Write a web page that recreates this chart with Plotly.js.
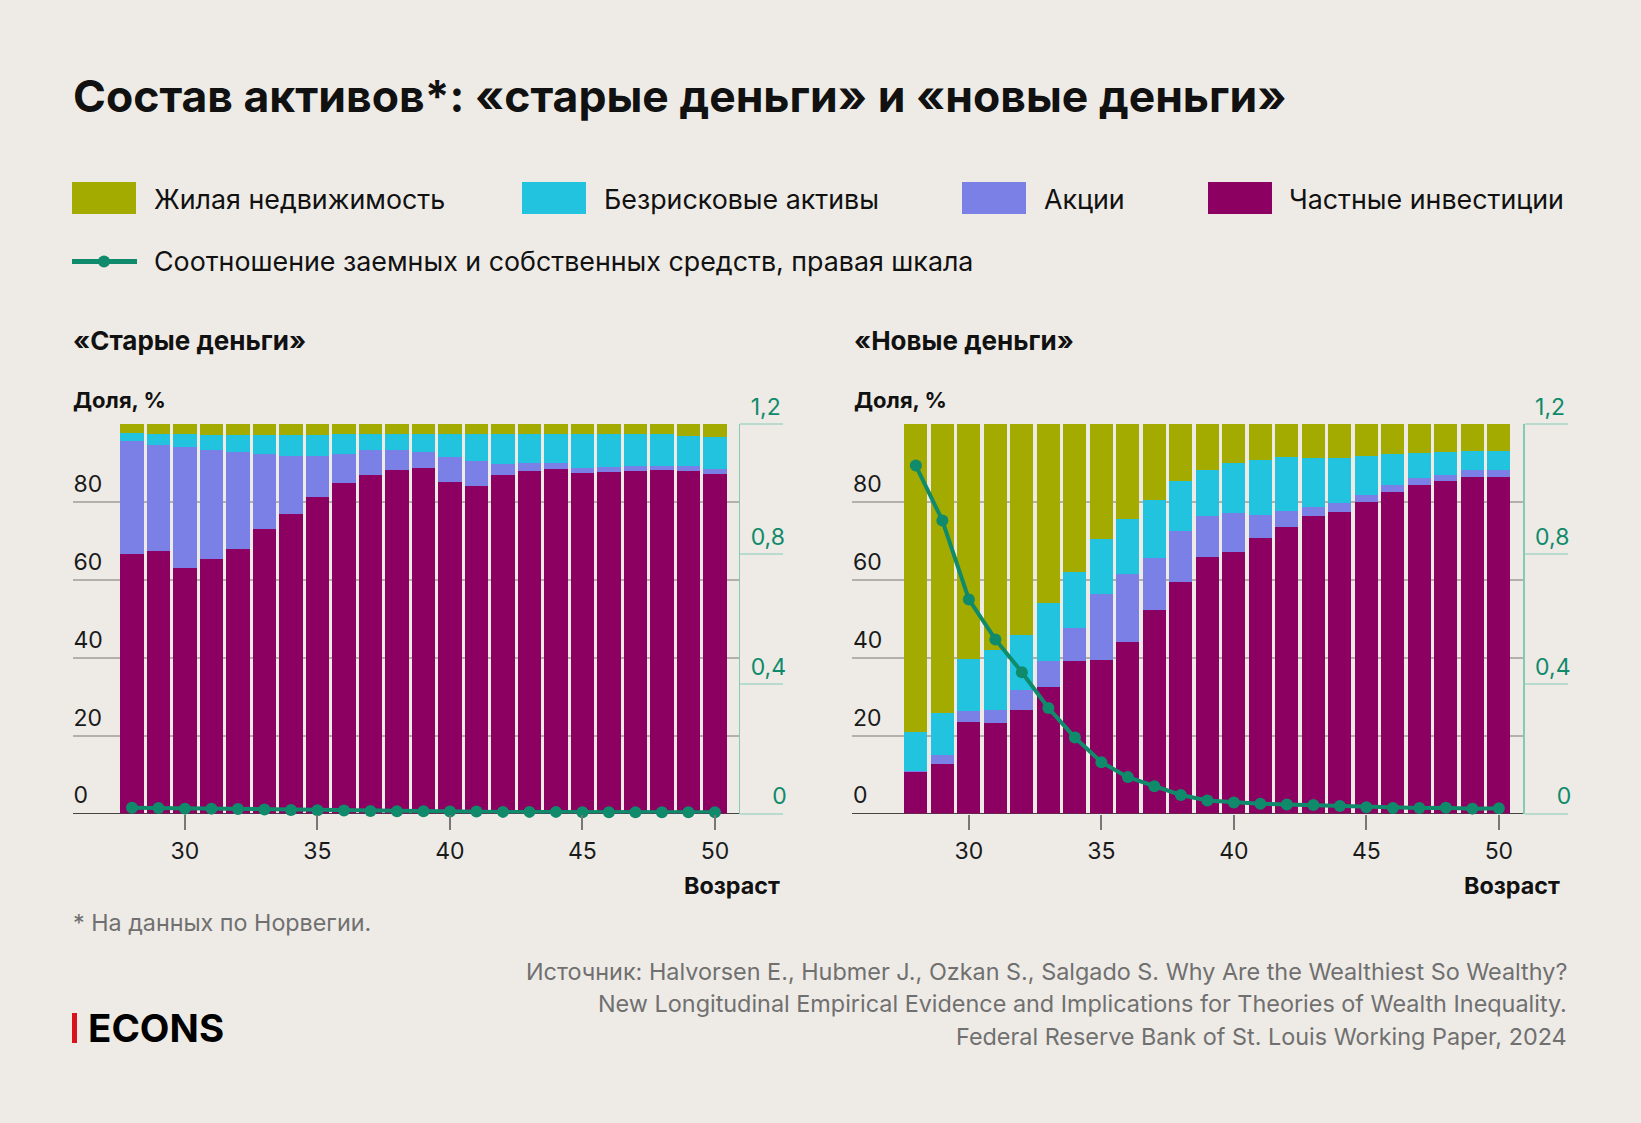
<!DOCTYPE html>
<html>
<head>
<meta charset="utf-8">
<script src="https://cdn.plot.ly/plotly-3.0.1.min.js"></script>
<style>
html,body{margin:0;padding:0;background:#eeebe6;}
#chart{width:1641px;height:1123px;}
</style>
</head>
<body>
<div id="chart"></div>
<script>
// ---------- DATA ----------
const ages = [28,29,30,31,32,33,34,35,36,37,38,39,40,41,42,43,44,45,46,47,48,49,50];
const xTicks = [30,35,40,45,50];
const yTicks = [0,20,40,60,80,100];
const yTickText = ['0','20','40','60','80',''];
const y2Ticks = [0,0.4,0.8,1.2];
const y2TickText = ['\u2007\u20080','0,4','0,8','1,2'];

const seriesNames = ['Жилая недвижимость','Безрисковые активы','Акции','Частные инвестиции'];
const lineName = 'Соотношение заемных и собственных средств, правая шкала';
const panelTitles = ['«Старые деньги»','«Новые деньги»'];

// «Старые деньги»
const oldPrivate = [66.7,67.3,63.1,65.3,67.8,73.0,76.8,81.1,84.8,86.9,88.1,88.6,85.1,84.0,86.9,87.8,88.4,87.4,87.7,87.9,88.1,87.9,87.1];
const oldStocks  = [28.8,27.2,31.0,28.0,24.9,19.1,14.8,10.5,7.3,6.4,5.2,4.1,6.3,6.5,2.7,2.0,1.4,1.3,1.1,1.2,1.1,1.2,1.4];
const oldSafe    = [2.1,2.9,3.3,3.7,4.3,5.1,5.6,5.6,5.3,4.1,4.1,4.7,6.0,6.9,7.8,7.6,7.6,8.6,8.5,8.2,8.1,7.8,8.1];
const oldHousing = [2.4,2.6,2.6,3.0,3.0,2.8,2.8,2.8,2.6,2.6,2.6,2.6,2.6,2.6,2.6,2.6,2.6,2.7,2.7,2.7,2.7,3.1,3.4];
const oldLeverage= [0.018,0.017,0.015,0.015,0.014,0.012,0.011,0.010,0.009,0.008,0.007,0.007,0.006,0.006,0.005,0.005,0.005,0.004,0.004,0.004,0.004,0.004,0.004];

// «Новые деньги»
const newPrivate = [10.6,12.8,23.6,23.3,26.6,32.4,39.2,39.4,43.9,52.1,59.5,65.8,67.1,70.6,73.6,76.4,77.4,79.9,82.4,84.4,85.3,86.3,86.3];
const newStocks  = [0.3,2.2,2.6,3.3,5.0,6.8,8.3,16.9,17.5,13.5,12.9,10.5,9.9,5.9,3.9,2.3,2.2,1.8,1.9,1.6,1.5,1.8,1.8];
const newSafe    = [10.0,10.7,13.4,15.4,14.2,14.9,14.5,14.0,14.2,14.7,12.8,11.9,12.8,14.3,13.9,12.5,11.7,10.1,8.0,6.4,5.9,4.8,4.8];
const newHousing = [79.1,74.3,60.4,58.0,54.2,45.9,38.0,29.7,24.4,19.7,14.8,11.8,10.2,9.2,8.6,8.8,8.7,8.2,7.7,7.6,7.3,7.1,7.1];
const newLeverage= [1.071,0.902,0.659,0.536,0.435,0.325,0.234,0.158,0.112,0.084,0.057,0.040,0.034,0.030,0.028,0.026,0.023,0.019,0.017,0.017,0.018,0.015,0.016];

// ---------- STYLE ----------
const W = 1641, H = 1123;
const BG = '#eeebe6';
const colors = {housing:'#a4ab00', safe:'#22c3df', stocks:'#7b80e6', priv:'#8c0062', line:'#0f8a6a'};
const FONT = 'Inter, "Noto Sans", Roboto, sans-serif';
const px = v => v / W;
const py = v => 1 - v / H;

function barTraces(xa, ya, priv, stocks, safe, housing){
  const base = {type:'bar', x: ages, xaxis: xa, yaxis: ya, showlegend:false, hoverinfo:'skip'};
  return [
    Object.assign({}, base, {name: seriesNames[3], y: priv,    marker:{color: colors.priv, line:{width:0}}}),
    Object.assign({}, base, {name: seriesNames[2], y: stocks,  marker:{color: colors.stocks, line:{width:0}}}),
    Object.assign({}, base, {name: seriesNames[1], y: safe,    marker:{color: colors.safe, line:{width:0}}}),
    Object.assign({}, base, {name: seriesNames[0], y: housing, marker:{color: colors.housing, line:{width:0}}})
  ];
}
function lineTrace(xa, ya, vals){
  return {type:'scatter', mode:'lines+markers', name: lineName, x: ages, y: vals, xaxis: xa, yaxis: ya,
    line:{color: colors.line, width:4}, marker:{color: colors.line, size:12}, cliponaxis:false, showlegend:false, hoverinfo:'skip'};
}

const data = [
  ...barTraces('x','y', oldPrivate, oldStocks, oldSafe, oldHousing),
  lineTrace('x','y2', oldLeverage),
  ...barTraces('x2','y3', newPrivate, newStocks, newSafe, newHousing),
  lineTrace('x2','y4', newLeverage)
];

const yDomain = [py(813.5), py(423.7)];

function xAxis(domain, range, anchor){
  return {domain, range, anchor, tickvals: xTicks, ticks:'outside', ticklen:15, tickwidth:2, tickcolor:'#777',
    ticklabelstandoff:2,
    showgrid:false, zeroline:false, showline:false, tickfont:{size:23, color:'#1a1a1a', family:FONT}, fixedrange:true};
}
function yAxis(anchor){
  return {domain: yDomain, range:[0,100], anchor, tickvals: yTicks, ticktext: yTickText, ticks:'',
    showgrid:true, gridcolor:'#b3b0ab', gridwidth:2, zeroline:true, zerolinecolor:'#444', zerolinewidth:1.5,
    showline:false, ticklabelposition:'inside top', ticklabelshift:-2, ticklabelstandoff:-2,
    tickfont:{size:23, color:'#1a1a1a', family:FONT}, fixedrange:true};
}
function y2Axis(over, anchor){
  return {overlaying: over, side:'right', anchor, range:[0,1.2], tickvals: y2Ticks, ticktext: y2TickText,
    showgrid:false, zeroline:false, showline:true, linecolor:'#86c9b4', linewidth:1.5,
    ticks:'outside', ticklen:43, tickwidth:2, tickcolor:'#b9dbcf',
    ticklabelposition:'outside top', ticklabelstandoff:6,
    tickfont:{size:23, color: colors.line, family:FONT}, fixedrange:true};
}

const shapes = [];
const annotations = [];
function text(t, x, y, size, opts){
  annotations.push(Object.assign({text:t, x:px(x), y:py(y), xref:'paper', yref:'paper', showarrow:false,
    xanchor:'left', yanchor:'middle', font:{family:FONT, size, color:'#111'}}, opts||{}));
}

// Title
text('<b>Состав активов*: «старые деньги» и «новые деньги»</b>', 71, 96, 44.5);

// Legend (custom)
const legendItems = [
  {name: seriesNames[0], color: colors.housing, sx: 72, tx: 152},
  {name: seriesNames[1], color: colors.safe,    sx: 522, tx: 602},
  {name: seriesNames[2], color: colors.stocks,  sx: 962, tx: 1042},
  {name: seriesNames[3], color: colors.priv,    sx: 1208, tx: 1287}
];
legendItems.forEach(it => {
  shapes.push({type:'rect', xref:'paper', yref:'paper', x0:px(it.sx), x1:px(it.sx+64), y0:py(214), y1:py(182),
    fillcolor: it.color, line:{width:0}});
  text(it.name, it.tx, 199, 26.8);
});
shapes.push({type:'line', xref:'paper', yref:'paper', x0:px(72), x1:px(137), y0:py(261.5), y1:py(261.5),
  line:{color: colors.line, width:5}});
shapes.push({type:'circle', xref:'paper', yref:'paper', x0:px(98), x1:px(110), y0:py(267.5), y1:py(255.5),
  fillcolor: colors.line, line:{width:0}});
text(lineName, 152, 261, 26.8);

// Panel titles
text('<b>' + panelTitles[0] + '</b>', 71, 340, 26);
text('<b>' + panelTitles[1] + '</b>', 852, 340, 26);
text('<b>Доля, %</b>', 71, 400, 22);
text('<b>Доля, %</b>', 852, 400, 22);
text('<b>Возраст</b>', 782, 885, 23.3, {xanchor:'right'});
text('<b>Возраст</b>', 1562, 885, 23.3, {xanchor:'right'});

// Footnote and source
const GRAY = '#707070';
text('* На данных по Норвегии.', 71, 922, 23.3, {font:{family:FONT, size:23.3, color:GRAY}});
const sourceLines = [
  'Источник: Halvorsen E., Hubmer J., Ozkan S., Salgado S. Why Are the Wealthiest So Wealthy?',
  'New Longitudinal Empirical Evidence and Implications for Theories of Wealth Inequality.',
  'Federal Reserve Bank of St. Louis Working Paper, 2024'
];
[971, 1003.5, 1036].forEach((y, i) => text(sourceLines[i], 1569, y, 23.4, {xanchor:'right', font:{family:FONT, size:23.4, color:GRAY}}));

// Logo
shapes.push({type:'rect', xref:'paper', yref:'paper', x0:px(72), x1:px(77), y0:py(1043), y1:py(1013),
  fillcolor:'#d9121b', line:{width:0}});
text('<b>ECONS</b>', 86, 1028, 38.5, {font:{family:FONT, size:38.5, color:'#000'}});

const layout = {
  width: W, height: H, margin:{l:0, r:0, t:0, b:0, pad:0},
  paper_bgcolor: BG, plot_bgcolor: 'rgba(0,0,0,0)',
  barmode:'stack', bargap:0.125, showlegend:false,
  font:{family:FONT, color:'#111'},
  xaxis: xAxis([px(72.5), px(738.6)], [25.755, 50.894], 'y'),
  yaxis: yAxis('x'),
  yaxis2: y2Axis('y', 'x'),
  xaxis2: xAxis([px(852), px(1523)], [25.59, 50.91], 'y3'),
  yaxis3: yAxis('x2'),
  yaxis4: y2Axis('y3', 'x2'),
  shapes, annotations
};

Plotly.newPlot('chart', data, layout, {displayModeBar:false, staticPlot:true});
</script>
</body>
</html>
